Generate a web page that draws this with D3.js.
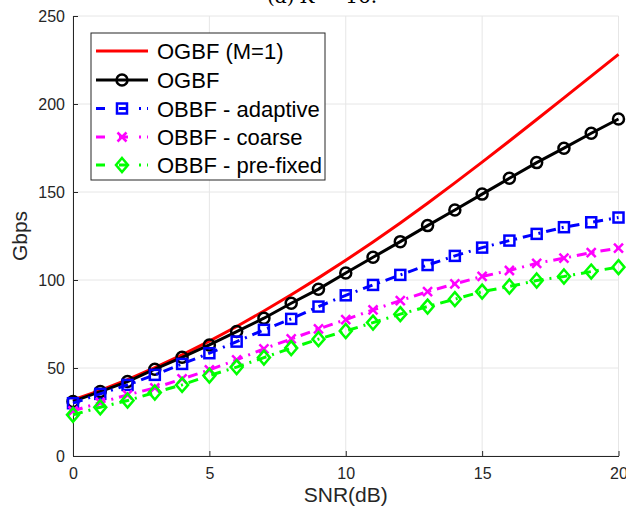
<!DOCTYPE html>
<html><head><meta charset="utf-8">
<script src="https://cdn.jsdelivr.net/npm/d3@7"></script>
<style>body{margin:0;background:#fff;} svg{display:block;}</style>
</head><body>
<svg id="c" width="626" height="516"></svg>
<script>
const snr = d3.range(0, 21);
const ogbfM1   = [31.8,37.3,43.4,50.2,57.5,65.3,73.6,82.4,91.6,101.2,111.2,121.6,132.4,143.6,155.2,167,179,191.2,203.5,215.8,228.2];
const ogbf     = [31,36.6,42.3,49.3,56.1,63.1,70.7,78.3,86.8,94.8,104,112.9,121.8,130.9,139.8,148.8,157.8,166.7,174.9,183.4,191.5];
const adaptive = [30,35.3,40.4,46.1,52.3,58.4,65,71.7,77.9,84.9,91.3,97.2,102.9,108.5,113.7,118.4,122.4,126.2,130,132.8,135.5];
const coarse   = [25.6,30.4,34.7,38.7,43.8,48.9,54.6,60.9,66.5,72.2,77.5,83,88.3,93.4,97.8,102,105.4,109.5,112.4,115.6,118.1];
const prefixed = [23.4,27.7,31.5,36.1,40.4,45.7,50.5,55.9,61.3,66.4,71,75.8,80.6,84.9,89.1,93.4,96.3,99.7,102,104.8,107.3];
const xTicks = [0,5,10,15,20];
const yTicks = [0,50,100,150,200,250];
const seriesNames = ["OGBF (M=1)","OGBF","OBBF - adaptive","OBBF - coarse","OBBF - pre-fixed"];

const series = [
  {name: seriesNames[0], values: ogbfM1, color: "#ff0000", dash: null, marker: null},
  {name: seriesNames[1], values: ogbf, color: "#000000", dash: null, marker: "circle"},
  {name: seriesNames[2], values: adaptive, color: "#0000ff", dash: "10,6,2,6", marker: "square"},
  {name: seriesNames[3], values: coarse, color: "#ff00ff", dash: "10,6,2,6", marker: "x"},
  {name: seriesNames[4], values: prefixed, color: "#00ff00", dash: "10,6,2,6", marker: "diamond"}
];

const svg = d3.select("#c");
const L = 73, R = 618.5, T = 16, B = 456;
const x = d3.scaleLinear().domain([0,20]).range([L,R]);
const y = d3.scaleLinear().domain([0,250]).range([B,T]);
const font = "'Liberation Sans', Arial, Helvetica, sans-serif";

// title (clipped at top, as in the reference)
svg.append("text").attr("x", 322).attr("y", 3).attr("text-anchor","middle")
  .attr("font-family","'DejaVu Serif', 'Liberation Serif', serif").attr("font-size", 20)
  .attr("fill","#000").html('(a) <tspan font-style="italic">K</tspan> = 16.');

// grid
const g = svg.append("g");
g.selectAll(".gx").data(xTicks).join("line")
  .attr("x1", d=>x(d)).attr("x2", d=>x(d)).attr("y1", T).attr("y2", B)
  .attr("stroke","#e6e6e6").attr("stroke-width",1);
g.selectAll(".gy").data(yTicks).join("line")
  .attr("x1", L).attr("x2", R).attr("y1", d=>y(d)).attr("y2", d=>y(d))
  .attr("stroke","#e6e6e6").attr("stroke-width",1);

// axes
const xAxis = d3.axisBottom(x).tickValues(xTicks).tickSizeInner(-5).tickSizeOuter(0).tickPadding(12);
const yAxis = d3.axisLeft(y).tickValues(yTicks).tickSizeInner(-5).tickSizeOuter(0).tickPadding(8);
const gx = svg.append("g").attr("transform",`translate(0,${B})`).call(xAxis);
const gy = svg.append("g").attr("transform",`translate(${L},0)`).call(yAxis);
[gx, gy].forEach(a => {
  a.select(".domain").attr("stroke","#262626").attr("stroke-width",1);
  a.selectAll(".tick line").attr("stroke","#262626");
  a.selectAll(".tick text").attr("font-family", font).attr("font-size", 16).attr("fill","#262626");
});

// axis labels
svg.append("text").attr("x", (L+R)/2).attr("y", 502).attr("text-anchor","middle")
  .attr("font-family", font).attr("font-size", 21).attr("fill","#262626").text("SNR(dB)");
svg.append("text").attr("transform", `translate(27,${(T+B)/2}) rotate(-90)`).attr("text-anchor","middle")
  .attr("font-family", font).attr("font-size", 21).attr("fill","#262626").text("Gbps");

function drawMarker(sel, type, color, cx, cy) {
  const s = 2.5;
  if (type === "circle") {
    sel.append("circle").attr("cx",cx).attr("cy",cy).attr("r",5.5)
      .attr("fill","none").attr("stroke",color).attr("stroke-width",s);
  } else if (type === "square") {
    sel.append("rect").attr("x",cx-5).attr("y",cy-5).attr("width",10).attr("height",10)
      .attr("fill","none").attr("stroke",color).attr("stroke-width",s);
  } else if (type === "diamond") {
    sel.append("path").attr("d",`M${cx},${cy-7}L${cx+6},${cy}L${cx},${cy+7}L${cx-6},${cy}Z`)
      .attr("fill","none").attr("stroke",color).attr("stroke-width",s);
  } else if (type === "x") {
    const r = 4.5;
    sel.append("path").attr("d",`M${cx-r},${cy-r}L${cx+r},${cy+r}M${cx-r},${cy+r}L${cx+r},${cy-r}`)
      .attr("fill","none").attr("stroke",color).attr("stroke-width",s);
  }
}

const line = d3.line().x((d,i)=>x(snr[i])).y(d=>y(d));
series.forEach(s => {
  const gs = svg.append("g");
  gs.append("path").attr("d", line(s.values)).attr("fill","none")
    .attr("stroke", s.color).attr("stroke-width", 3)
    .attr("stroke-dasharray", s.dash);
  if (s.marker) s.values.forEach((v,i) => drawMarker(gs, s.marker, s.color, x(snr[i]), y(v)));
});

// legend
const lg = svg.append("g");
const lx = 91, ly = 33, lw = 234, lh = 147;
lg.append("rect").attr("x",lx).attr("y",ly).attr("width",lw).attr("height",lh)
  .attr("fill","#fff").attr("stroke","#262626").attr("stroke-width",1);
const rowY = [51, 80, 108.5, 137, 165];
series.forEach((s,i) => {
  const yy = rowY[i];
  lg.append("line").attr("x1",96).attr("x2",148).attr("y1",yy).attr("y2",yy)
    .attr("stroke",s.color).attr("stroke-width",3).attr("stroke-dasharray", s.dash ? "9,14,9,11,2,6" : null);
  if (s.marker) drawMarker(lg, s.marker, s.color, 122, yy);
  lg.append("text").attr("x",157).attr("y",yy+8).attr("font-family",font).attr("font-size",22)
    .attr("fill","#000").text(s.name);
});
</script>
</body></html>
